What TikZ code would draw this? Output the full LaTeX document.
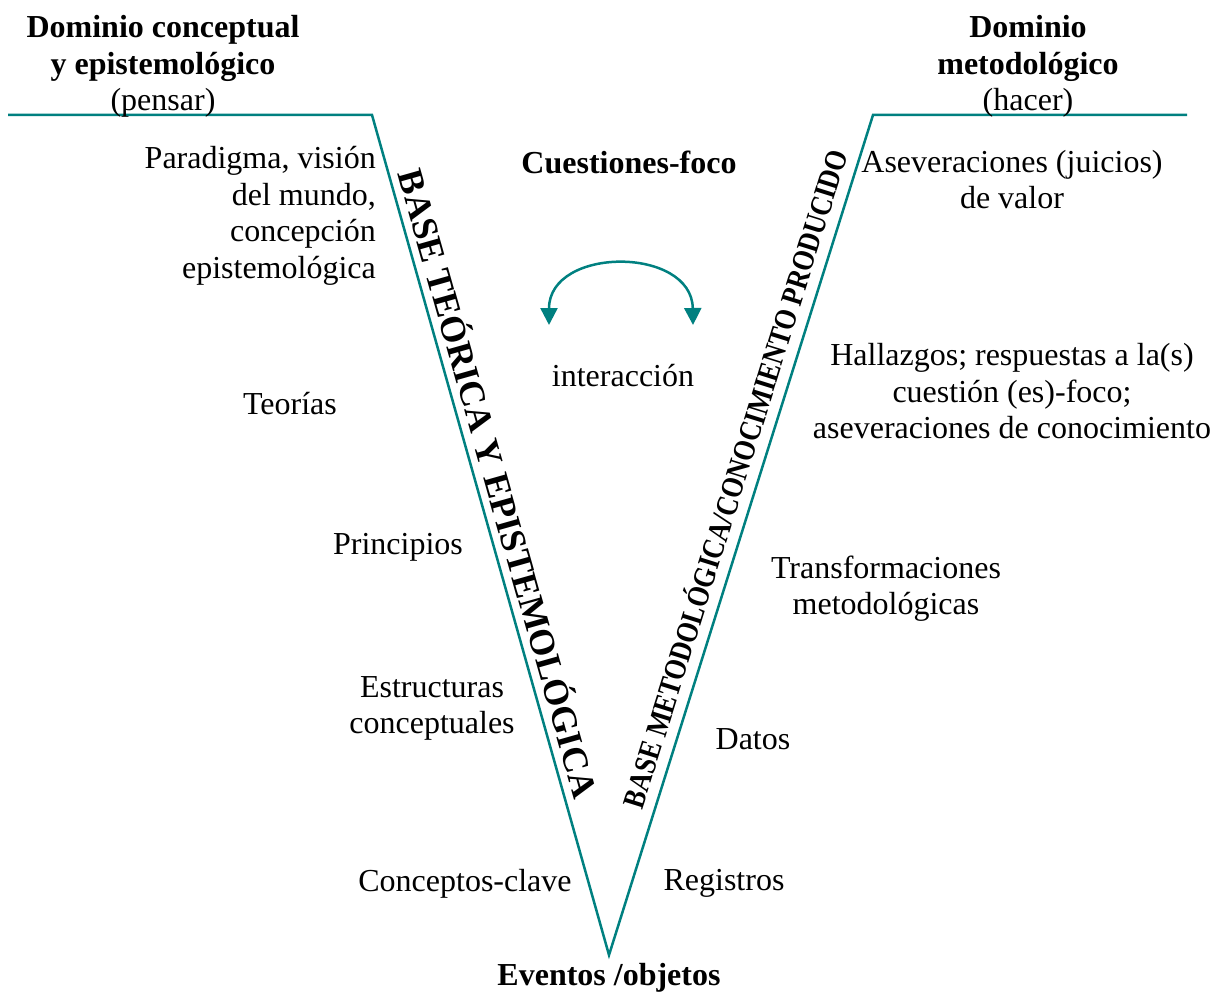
\documentclass[tikz,border=0pt]{standalone}
\usepackage{fontspec}
\setmainfont{Liberation Serif}
\usetikzlibrary{arrows.meta}
\definecolor{vteal}{RGB}{0,128,128}
\begin{document}
\begin{tikzpicture}[x=1pt,y=-1pt,font=\fontsize{32}{36.5}\selectfont]
  \tikzset{
    vline/.style={draw=vteal,line width=2.5pt,line join=miter},
    swap/.style={draw=vteal,line width=2.5pt,{Triangle[length=17pt,width=17pt]}-{Triangle[length=17pt,width=17pt]}},
    lab/.style={inner sep=0pt,align=center},
    head/.style={inner sep=0pt,align=center,font=\fontsize{32}{36.5}\selectfont\bfseries},
    basetext/.style={inner sep=0pt,font=\fontsize{36}{36}\selectfont\bfseries}
  }
  \useasboundingbox (0,0) rectangle (1222,992);

  % The V and its two shoulders.
  \coordinate (lfar) at (8,115);
  \coordinate (ltop) at (372,115);
  \coordinate (tip) at (609,955);
  \coordinate (rtop) at (873,115);
  \coordinate (rfar) at (1187,115);
  \draw[vline] (lfar) -- (ltop) -- (tip) -- (rtop) -- (rfar);

  % Domain titles.
  \node[lab] (domc) at (163,66.5) {\textbf{Dominio conceptual}\\\textbf{y epistemológico}\\(pensar)};
  \node[lab] (domm) at (1028,66.5) {\textbf{Dominio}\\\textbf{metodológico}\\(hacer)};

  % Centre of the V.
  \node[head] (focus) at (629,162) {Cuestiones-foco};
  \node[lab] (inter) at (623,375.5) {interacción};
  \node[head] (events) at (609,978) {Eventos /objetos};
  \coordinate (ial) at (549,325);
  \coordinate (iar) at (693,325);
  \draw[swap] (ial) .. controls (549,246) and (692,246) .. (iar);

  % Arm labels along the V.
  \node[basetext,rotate=-74.2] (baseth) at (501,483) {BASE TEÓRICA Y EPISTEMOLÓGICA};
  \node[basetext,rotate=72.6] (basemeth) at (733,478)
    {\scalebox{0.84}[1]{\fontsize{31}{36}\selectfont BASE METODOLÓGICA/CONOCIMIENTO PRODUCIDO}};

  % Conceptual side.
  \node[lab,align=right,anchor=east] (paradigm) at (376,216)
    {Paradigma, visión\\del mundo,\\concepción\\epistemológica};
  \node[lab] (theories) at (290,403.5) {Teorías};
  \node[lab] (principles) at (398,547.5) {Principios};
  \node[lab] (structures) at (432,708.5) {Estructuras\\conceptuales};
  \node[lab] (concepts) at (465,883.5) {Conceptos-clave};

  % Methodological side.
  \node[lab] (values) at (1012,179.5) {Aseveraciones (juicios)\\de valor};
  \node[lab] (findings) at (1012,391.5)
    {Hallazgos; respuestas a la(s)\\cuestión (es)-foco;\\aseveraciones de conocimiento};
  \node[lab] (transf) at (886,588.5) {Transformaciones\\metodológicas};
  \node[lab] (data) at (753,739.5) {Datos};
  \node[lab] (records) at (724,883.5) {Registros};
\end{tikzpicture}
\end{document}
